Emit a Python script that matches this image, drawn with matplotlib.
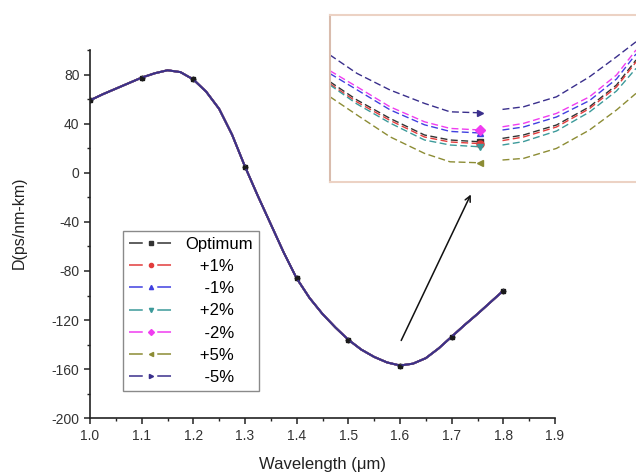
import matplotlib
matplotlib.use('Agg')
import matplotlib.pyplot as plt
from matplotlib.lines import Line2D

plt.rcParams['font.family'] = ['Liberation Sans', 'DejaVu Sans']
plt.rcParams['axes.unicode_minus'] = False

# main curve (all seven designs overlap at this scale)
wavelength = [1.0, 1.025, 1.05, 1.075, 1.1, 1.125, 1.15, 1.175, 1.2, 1.225, 1.25,
              1.275, 1.3, 1.325, 1.35, 1.375, 1.4, 1.425, 1.45, 1.475, 1.5,
              1.525, 1.55, 1.575, 1.6, 1.625, 1.65, 1.675, 1.7, 1.725, 1.75,
              1.775, 1.8]
dispersion = [59, 64, 68.5, 73, 77.5, 81, 83.5, 82, 76, 66, 52,
              31, 5, -19, -42, -65, -86, -102, -115, -126, -136,
              -144, -150, -154.5, -157, -155.5, -151, -143, -133.5, -124, -115,
              -105.5, -96]

labels = ['Optimum', '+1%', '-1%', '+2%', '-2%', '+5%', '-5%']
colors = ['#333333', '#e23c3c', '#4040e0', '#3c9a9a', '#f03cf0', '#8c8c34', '#3a2f8c']
markers = ['s', 'o', '^', 'v', 'D', '<', '>']

# zoomed view around the minimum (inset), left and right branches
inset_x_left = [1.50, 1.518, 1.54, 1.563, 1.58, 1.60]
inset_x_right = [1.615, 1.629, 1.651, 1.673, 1.691, 1.704]
inset_left = {
    'Optimum': [-151.34, -152.25, -153.17, -154.0, -154.25, -154.34],
    '+1%': [-151.44, -152.35, -153.27, -154.1, -154.35, -154.43],
    '-1%': [-150.93, -151.74, -152.74, -153.49, -153.82, -153.9],
    '+2%': [-151.5, -152.45, -153.4, -154.25, -154.5, -154.59],
    '-2%': [-150.79, -151.59, -152.59, -153.34, -153.67, -153.75],
    '+5%': [-152.09, -153.0, -154.09, -154.92, -155.34, -155.39],
    '-5%': [-150.0, -150.92, -151.75, -152.42, -152.84, -152.89],
}
inset_right = {
    'Optimum': [-154.17, -154.0, -153.5, -152.59, -151.5, -150.25],
    '+1%': [-154.28, -154.1, -153.6, -152.68, -151.6, -150.35],
    '-1%': [-153.75, -153.6, -153.1, -152.28, -151.2, -149.95],
    '+2%': [-154.5, -154.33, -153.8, -152.85, -151.8, -150.67],
    '-2%': [-153.59, -153.42, -152.92, -152.09, -151.0, -149.75],
    '+5%': [-155.25, -155.17, -154.67, -153.75, -152.75, -151.92],
    '-5%': [-152.72, -152.59, -152.09, -151.09, -150.09, -149.34],
}

fig = plt.figure(figsize=(6.36, 4.73), dpi=100)
ax = fig.add_axes([90/636, 1 - 418.3/473, 465/636, 368.3/473])

mark_idx = [i for i, x in enumerate(wavelength) if abs(x*10 - round(x*10)) < 1e-6]

for lab, c, m in zip(labels, colors, markers):
    ax.plot(wavelength, dispersion, color=c, lw=1.4, marker=m, markersize=2.5,
            markevery=mark_idx, markeredgecolor='#1a1a1a', markerfacecolor='#1a1a1a')

ax.set_xlim(1.0, 1.9)
ax.set_ylim(-200, 100)
ax.set_xticks([1.0, 1.1, 1.2, 1.3, 1.4, 1.5, 1.6, 1.7, 1.8, 1.9])
ax.set_xticks([1.05, 1.15, 1.25, 1.35, 1.45, 1.55, 1.65, 1.75, 1.85], minor=True)
ax.set_yticks([-200, -160, -120, -80, -40, 0, 40, 80])
ax.set_yticks([-180, -140, -100, -60, -20, 20, 60, 100], minor=True)
ax.spines['top'].set_visible(False)
ax.spines['right'].set_visible(False)
for s in ['left', 'bottom']:
    ax.spines[s].set_linewidth(1.2)
    ax.spines[s].set_color('#222222')
ax.tick_params(which='major', direction='out', length=4.5, width=1.1, pad=3,
               labelsize=10, labelcolor='#333333', color='#222222')
ax.tick_params(which='minor', direction='out', length=2.5, width=1.0, color='#222222')
ax.set_xlabel('Wavelength (\u03bcm)', fontsize=12, color='#222222')
ax.set_ylabel('D(ps/nm-km)', fontsize=11.5, color='#222222')
ax.xaxis.set_label_coords(0.5, -0.105)
ax.yaxis.set_label_coords(-0.135, 0.53)

# legend with dash-marker-dash handles
handles = [Line2D([0], [0], color=c, lw=1.1, linestyle=(0, (9, 9.5)), marker=m,
                  markersize=3, markerfacecolor=c, markeredgecolor=c)
           for c, m in zip(colors, markers)]
leg_labels = ['Optimum', '   +1%', '    -1%', '   +2%', '    -2%', '   +5%', '    -5%']
leg = ax.legend(handles, leg_labels, loc='upper left',
                bbox_to_anchor=(123/636, 1 - 231/473), bbox_transform=fig.transFigure,
                borderaxespad=0, fontsize=12, fancybox=False, framealpha=1,
                edgecolor='#8a8a8a', handlelength=2.7, handletextpad=0.7,
                labelspacing=0.43, borderpad=0.35)
leg.get_frame().set_linewidth(1.0)

# inset
axin = fig.add_axes([330/636, 1 - 182/473, 312/636, 167/473])
for lab, c, m in zip(labels, colors, markers):
    axin.plot(inset_x_left, inset_left[lab], color=c, lw=1.0, linestyle=(0, (5, 2.5)))
    axin.plot(inset_x_left[-1], inset_left[lab][-1], marker=m, color=c, markersize=5)
    axin.plot(inset_x_right, inset_right[lab], color=c, lw=1.0, linestyle=(0, (5, 2.5)))
axin.set_xlim(1.5, 1.708)
axin.set_ylim(-156.35, -148.0)
axin.set_xticks([])
axin.set_yticks([])
for s in axin.spines.values():
    s.set_color('#ecd2c4')
    s.set_linewidth(1.5)
axin.spines['left'].set_color('#d9bcad')

# arrow pointing to the inset
ax.annotate('', xy=(472/636, 1 - 192/473), xycoords='figure fraction',
            xytext=(400/636, 1 - 343/473), textcoords='figure fraction',
            arrowprops=dict(arrowstyle='->', color='#111111', lw=1.1))

plt.savefig('out.png', dpi=100)
plt.close()
